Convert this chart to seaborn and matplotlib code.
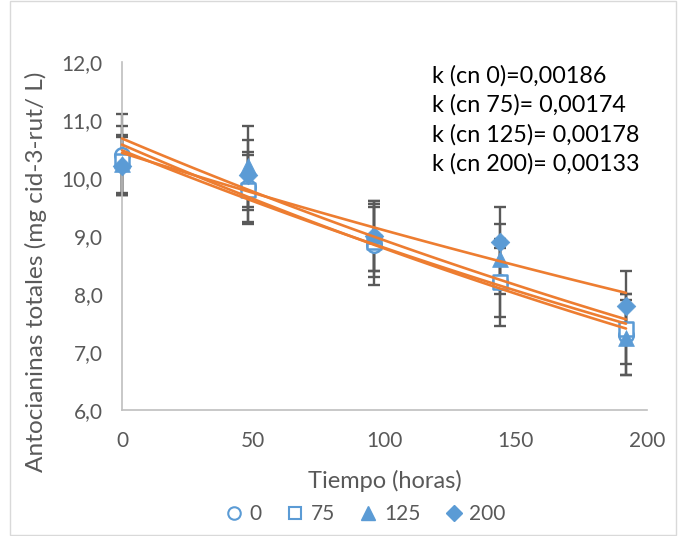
import numpy as np
import pandas as pd
import matplotlib
matplotlib.use("Agg")
import matplotlib.pyplot as plt
import seaborn as sns
from matplotlib.lines import Line2D
from matplotlib.patches import Rectangle

# data
tiempo = [0, 48, 96, 144, 192]
series_names = ["0", "75", "125", "200"]
cn0 = [10.4, 9.85, 8.85, 8.2, 7.3]
cn75 = [10.3, 9.8, 8.9, 8.2, 7.4]
cn125 = [10.25, 10.2, 9.0, 8.6, 7.25]
cn200 = [10.2, 10.05, 9.0, 8.9, 7.8]
err0 = [0.7, 0.6, 0.7, 0.6, 0.7]
err75 = [0.6, 0.6, 0.6, 0.75, 0.6]
err125 = [0.5, 0.7, 0.6, 0.6, 0.65]
err200 = [0.5, 0.6, 0.6, 0.6, 0.6]
k_labels = ["k (cn 0)=0,00186", "k (cn 75)= 0,00174", "k (cn 125)= 0,00178", "k (cn 200)= 0,00133"]
yticks = [6.0, 7.0, 8.0, 9.0, 10.0, 11.0, 12.0]
xticks = [0, 50, 100, 150, 200]

values = [cn0, cn75, cn125, cn200]
errs = [err0, err75, err125, err200]

sns.set_style("white")
plt.rcParams['font.family'] = ['Lato', 'DejaVu Sans']

blue = "#5B9BD5"
orange = "#ED7D31"
gray = "#595959"

fig = plt.figure(figsize=(6.78, 5.36), dpi=100)
ax = fig.add_axes([122/678, 1-410/536, (647-122)/678, (410-62)/536])

df = pd.DataFrame({
    "t": np.tile(tiempo, 4),
    "v": np.concatenate(values),
    "s": np.repeat(series_names, len(tiempo)),
})

# error bars
for v, e in zip(values, errs):
    _, caps, bars = ax.errorbar(tiempo, v, yerr=e, fmt="none", ecolor=gray, elinewidth=1.7,
                                capsize=4.5, capthick=1.7, zorder=1)
    for c in caps:
        c.set_clip_on(False)
    for b in bars:
        b.set_clip_on(False)

markers = {"0": "o", "75": "s", "125": "^", "200": "D"}
sizes = {"0": 110, "75": 110, "125": 130, "200": 90}
for name in series_names:
    sub = df[df.s == name]
    if name in ("0", "75"):
        sns.scatterplot(data=sub, x="t", y="v", marker=markers[name], s=sizes[name],
                        facecolor="white", edgecolor=blue, linewidth=1.8, ax=ax,
                        zorder=3, clip_on=False)
    else:
        sns.scatterplot(data=sub, x="t", y="v", marker=markers[name], s=sizes[name],
                        color=blue, edgecolor=blue, linewidth=0.5, ax=ax,
                        zorder=3, clip_on=False)

# exponential trendlines
xt = np.linspace(0, 192, 100)
tarr = np.array(tiempo, dtype=float)
for v in values:
    b, a = np.polyfit(tarr, np.log(v), 1)
    ax.plot(xt, np.exp(a + b * xt), color=orange, lw=1.9, zorder=4, clip_on=False)

ax.set_xlim(0, 200)
ax.set_ylim(6, 12)
ax.set_xticks(xticks)
ax.set_yticks(yticks)
ax.set_yticklabels([f"{y:.1f}".replace(".", ",") for y in yticks])
ax.set_xticklabels([str(x) for x in xticks])
ax.tick_params(axis="both", length=0, labelsize=15, labelcolor=gray)
ax.tick_params(axis="y", pad=14)
ax.tick_params(axis="x", pad=15)
for s in ["top", "right"]:
    ax.spines[s].set_visible(False)
for s in ["left", "bottom"]:
    ax.spines[s].set_color("#BFBFBF")
    ax.spines[s].set_linewidth(1.2)
ax.set_xlabel("Tiempo (horas)", fontsize=17, color=gray, va="center")
ax.xaxis.set_label_coords(0.5, (410-481)/348)
ax.set_ylabel("Antocianinas totales (mg cid-3-rut/ L)", fontsize=17.6, color=gray, va="center")
ax.yaxis.set_label_coords((36-122)/525, (410-272)/348)

for i, txt in enumerate(k_labels):
    fig.text(432/678, 1 - (76 + 29.3*i)/536, txt, fontsize=16.8, color="#000000",
             va="center", ha="left")

handles = [
    Line2D([], [], linestyle="none", marker="o", markersize=9, markerfacecolor="white",
           markeredgecolor=blue, markeredgewidth=1.5),
    Line2D([], [], linestyle="none", marker="s", markersize=9, markerfacecolor="white",
           markeredgecolor=blue, markeredgewidth=1.5),
    Line2D([], [], linestyle="none", marker="^", markersize=10, color=blue),
    Line2D([], [], linestyle="none", marker="D", markersize=8, color=blue),
]
leg = fig.legend(handles, series_names, loc="center", bbox_to_anchor=(362/678, 1-514/536),
                 ncol=4, frameon=False, fontsize=15, handletextpad=0.0,
                 columnspacing=0.85, handlelength=1.5)
for t in leg.get_texts():
    t.set_color(gray)

fig.patches.append(Rectangle((10/678, 0.002), 1-12/678, 0.996, transform=fig.transFigure,
                             fill=False, edgecolor="#D9D9D9", lw=1))

fig.savefig("out.png", dpi=100)
